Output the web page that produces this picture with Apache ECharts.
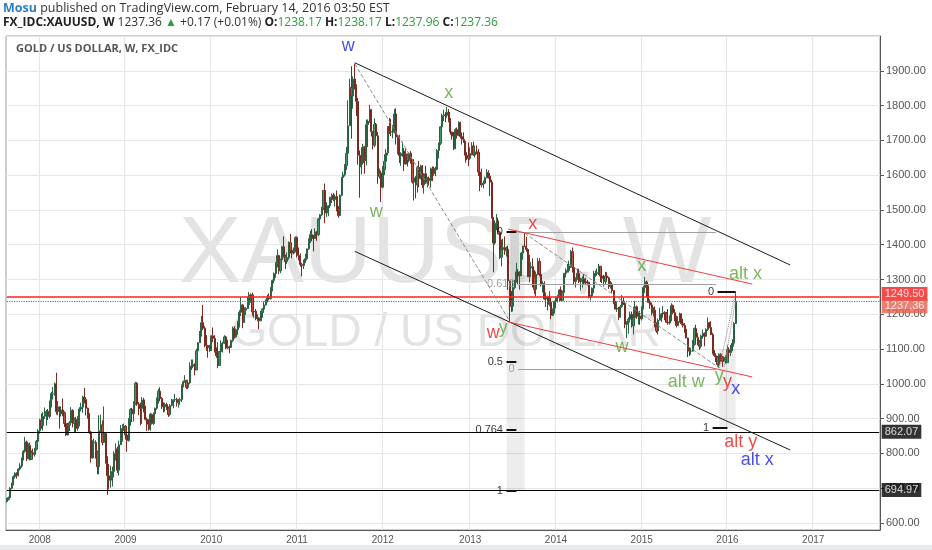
<!DOCTYPE html>
<html>
<head>
<meta charset="utf-8">
<title>GOLD / US DOLLAR, W, FX_IDC</title>
<script src="https://cdn.jsdelivr.net/npm/echarts@6/dist/echarts.min.js"></script>
<style>
  html, body { margin: 0; padding: 0; background: #fff; }
  #chart1 { width: 932px; height: 550px; }
</style>
</head>
<body>
<div id="chart1"></div>
<script>
// weekly bars, one row per week: [open, close, low, high]
var firstWeek = '2007-08-20';
var weekCount = 530;   // includes the empty weeks to the right of the last bar

var ohlc2007 = [
  [662,668,659,672],[668,673,665,676],[673,700,670,703],[700,712,697,716],[712,733,708,737],
  [733,743,728,746],[743,737,728,746],[737,755,734,758],[755,764,751,772],[764,784,759,788],
  [784,806,780,810],[806,833,802,848],[833,785,778,837],[785,823,783,829],[823,783,780,831],
  [783,802,781,809],[802,797,789,814],[797,812,791,816],[812,835,809,839]
];
var ohlc2008 = [
  [835,865,831,870],[865,896,857,900],[896,880,871,915],[880,907,866,919],[907,911,899,932],
  [911,921,880,925],[921,906,896,928],[906,948,901,952],[948,972,932,977],[972,972,955,991],
  [972,1000,966,1004],[1000,920,912,1032],[920,934,910,951],[934,914,871,935],[914,925,906,934],
  [925,917,907,958],[917,886,876,921],[886,853,850,891],[853,881,852,888],[881,888,864,893],
  [888,924,884,933],[924,886,875,927],[886,898,862,903],[898,872,861,905],[872,903,865,908],
  [903,928,878,933],[928,933,921,946],[933,962,917,966],[962,955,944,988],[955,930,909,962],
  [930,913,900,932],[913,862,856,916],[862,787,774,865],[787,830,785,838],[830,832,813,843],
  [832,805,785,838],[805,762,740,808],[762,865,740,910],[865,882,862,912],[882,832,824,895],
  [832,858,830,935],[858,785,771,862],[785,736,681,792],[736,723,697,770],[723,736,702,765],
  [736,748,705,762],[748,800,731,806],[800,813,780,829],[813,752,744,820],[752,825,737,837],
  [825,837,825,882],[837,872,834,884]
];
var ohlc2009 = [
  [872,878,864,886],[878,853,840,882],[853,837,805,860],[837,897,834,902],[897,927,880,930],
  [927,914,890,931],[914,941,892,950],[941,1002,940,1006],[1002,942,937,1005],[942,940,910,948],
  [940,929,881,946],[929,954,885,962],[954,923,918,960],[923,898,895,937],[898,884,865,903],
  [884,870,866,898],[870,912,865,917],[912,886,883,915],[886,914,882,918],[914,930,910,932],
  [930,957,925,961],[957,979,943,985],[979,958,950,990],[958,936,928,962],[936,934,918,947],
  [934,941,920,946],[941,930,925,946],[930,912,905,935],[912,938,908,942],[938,952,935,957],
  [952,954,930,956],[954,955,948,971],[955,946,935,960],[946,952,932,957],[952,955,940,960],
  [955,995,948,998],[995,1006,990,1010],[1006,1009,1003,1025],[1009,990,985,1012],[990,1003,985,1012],
  [1003,1050,1000,1062],[1050,1051,1040,1070],[1051,1056,1045,1070],[1056,1040,1025,1059],[1040,1095,1040,1101],
  [1095,1118,1091,1120],[1118,1145,1118,1152],[1145,1176,1136,1195],[1176,1160,1155,1227],[1160,1118,1105,1166],
  [1118,1110,1095,1140],[1110,1104,1075,1112]
];
var ohlc2010 = [
  [1104,1096,1092,1112],[1096,1138,1095,1140],[1138,1131,1120,1162],[1131,1093,1090,1140],[1093,1081,1075,1105],
  [1081,1053,1045,1120],[1053,1093,1053,1095],[1093,1117,1087,1125],[1117,1118,1090,1121],[1118,1135,1115,1140],
  [1135,1103,1100,1138],[1103,1106,1100,1127],[1106,1105,1088,1110],[1105,1125,1104,1127],[1125,1160,1120,1165],
  [1160,1135,1130,1166],[1135,1156,1133,1159],[1156,1180,1141,1181],[1180,1206,1162,1212],[1206,1227,1195,1249],
  [1227,1177,1160,1229],[1177,1212,1175,1220],[1212,1217,1198,1221],[1217,1227,1215,1250],[1227,1256,1220,1264],
  [1256,1256,1233,1260],[1256,1207,1196,1262],[1207,1209,1190,1215],[1209,1188,1183,1215],[1188,1189,1180,1200],
  [1189,1182,1157,1191],[1182,1205,1180,1210],[1205,1215,1190,1218],[1215,1227,1211,1237],[1227,1236,1225,1243],
  [1236,1247,1234,1256],[1247,1245,1240,1260],[1245,1275,1242,1278],[1275,1297,1266,1300],[1297,1317,1289,1320],
  [1317,1346,1305,1350],[1346,1369,1335,1387],[1369,1325,1315,1371],[1325,1357,1318,1360],[1357,1394,1330,1397],
  [1394,1367,1363,1424],[1367,1352,1330,1371],[1352,1363,1345,1378],[1363,1406,1357,1410],[1406,1384,1375,1431],
  [1384,1376,1361,1395],[1376,1380,1372,1392],[1380,1421,1378,1424]
];
var ohlc2011 = [
  [1421,1369,1363,1424],[1369,1360,1355,1392],[1360,1343,1337,1375],[1343,1340,1309,1348],[1340,1348,1330,1357],
  [1348,1360,1348,1374],[1360,1388,1355,1389],[1388,1410,1385,1418],[1410,1429,1405,1440],[1429,1421,1410,1445],
  [1421,1418,1381,1428],[1418,1437,1417,1447],[1437,1429,1411,1440],[1429,1474,1425,1476],[1474,1486,1450,1488],
  [1486,1504,1482,1509],[1504,1556,1500,1557],[1556,1491,1462,1576],[1491,1493,1480,1522],[1493,1512,1482,1514],
  [1512,1536,1505,1538],[1536,1542,1520,1547],[1542,1530,1525,1549],[1530,1539,1510,1545],[1539,1501,1496,1556],
  [1501,1484,1478,1511],[1484,1542,1482,1545],[1542,1593,1539,1595],[1593,1601,1583,1610],[1601,1628,1596,1632],
  [1628,1663,1615,1681],[1663,1742,1662,1815],[1742,1852,1742,1877],[1852,1828,1705,1913],[1828,1876,1791,1884],
  [1876,1856,1846,1921],[1856,1812,1770,1861],[1812,1657,1630,1822],[1657,1624,1535,1671],[1624,1635,1602,1680],
  [1635,1682,1630,1690],[1682,1642,1604,1684],[1642,1745,1628,1760],[1745,1755,1681,1760],[1755,1788,1750,1802],
  [1788,1725,1711,1790],[1725,1686,1674,1727],[1686,1746,1680,1763],[1746,1713,1708,1750],[1713,1597,1575,1724],
  [1597,1606,1590,1619],[1606,1565,1523,1613]
];
var ohlc2012 = [
  [1565,1616,1562,1626],[1616,1640,1600,1660],[1640,1664,1630,1675],[1664,1740,1657,1741],[1740,1725,1718,1764],
  [1725,1724,1712,1762],[1724,1724,1706,1744],[1724,1776,1720,1790],[1776,1710,1688,1792],[1710,1712,1660,1716],
  [1712,1656,1635,1716],[1656,1662,1627,1666],[1662,1669,1653,1696],[1669,1632,1612,1678],[1632,1660,1630,1676],
  [1660,1642,1625,1662],[1642,1663,1637,1665],[1663,1645,1633,1669],[1645,1580,1576,1646],[1580,1592,1527,1600],
  [1592,1572,1533,1597],[1572,1622,1550,1627],[1622,1590,1565,1641],[1590,1626,1588,1630],[1626,1572,1563,1629],
  [1572,1604,1547,1606],[1604,1579,1575,1627],[1579,1591,1565,1595],[1591,1584,1570,1596],[1584,1618,1564,1622],
  [1618,1604,1583,1625],[1604,1620,1598,1625],[1620,1616,1597,1624],[1616,1671,1615,1675],[1671,1692,1648,1694],
  [1692,1739,1686,1741],[1739,1771,1722,1777],[1771,1773,1755,1788],[1773,1772,1752,1781],[1772,1781,1765,1796],
  [1781,1757,1752,1790],[1757,1724,1716,1764],[1724,1712,1702,1725],[1712,1676,1672,1724],[1676,1731,1675,1735],
  [1731,1714,1705,1737],[1714,1751,1712,1755],[1751,1711,1705,1754],[1711,1703,1688,1723],[1703,1695,1693,1723],
  [1695,1657,1636,1698],[1657,1656,1643,1666]
];
var ohlc2013 = [
  [1656,1648,1626,1694],[1648,1662,1644,1680],[1662,1684,1657,1695],[1684,1658,1656,1696],[1658,1667,1651,1682],
  [1667,1666,1660,1685],[1666,1609,1598,1675],[1609,1572,1554,1615],[1572,1576,1565,1619],[1576,1577,1562,1585],
  [1577,1592,1574,1596],[1592,1608,1591,1617],[1608,1597,1590,1614],[1597,1580,1540,1606],[1580,1477,1476,1587],
  [1477,1405,1321,1480],[1405,1462,1400,1470],[1462,1469,1442,1488],[1469,1436,1430,1478],[1436,1364,1359,1439],
  [1364,1386,1338,1415],[1386,1392,1375,1417],[1392,1383,1371,1424],[1383,1387,1366,1395],[1387,1296,1270,1397],
  [1296,1234,1180,1298],[1234,1223,1207,1267],[1223,1277,1208,1297],[1277,1296,1272,1299],[1296,1322,1291,1348],
  [1322,1310,1286,1330],[1310,1313,1271,1324],[1313,1376,1310,1379],[1376,1396,1357,1397],[1396,1395,1393,1433],
  [1395,1386,1380,1423],[1386,1308,1307,1390],[1308,1333,1292,1371],[1333,1337,1320,1350],[1337,1308,1277,1361],
  [1308,1272,1258,1327],[1272,1315,1252,1323],[1315,1352,1312,1362],[1352,1315,1309,1361],[1315,1286,1280,1322],
  [1286,1288,1263,1295],[1288,1244,1242,1295],[1244,1250,1221,1263],[1250,1229,1211,1254],[1229,1235,1223,1267],
  [1235,1197,1186,1249],[1197,1213,1195,1217]
];
var ohlc2014 = [
  [1213,1237,1202,1240],[1237,1248,1217,1251],[1248,1254,1234,1256],[1254,1270,1236,1272],[1270,1240,1238,1280],
  [1240,1263,1238,1268],[1263,1318,1260,1319],[1318,1324,1306,1332],[1324,1326,1320,1345],[1326,1339,1320,1354],
  [1339,1380,1333,1385],[1380,1335,1320,1392],[1335,1294,1286,1340],[1294,1304,1277,1306],[1304,1318,1299,1331],
  [1318,1294,1290,1331],[1294,1300,1268,1305],[1300,1302,1277,1309],[1302,1290,1286,1316],[1290,1293,1287,1305],
  [1293,1292,1283,1299],[1292,1250,1246,1294],[1250,1253,1240,1256],[1253,1275,1248,1277],[1275,1316,1261,1325],
  [1316,1317,1308,1326],[1317,1320,1311,1332],[1320,1338,1313,1345],[1338,1310,1293,1339],[1310,1303,1290,1322],
  [1303,1294,1280,1313],[1294,1310,1285,1322],[1310,1305,1300,1321],[1305,1280,1273,1308],[1280,1287,1274,1296],
  [1287,1268,1262,1292],[1268,1231,1229,1270],[1231,1215,1214,1239],[1215,1218,1207,1237],[1218,1192,1183,1221],
  [1192,1222,1190,1227],[1222,1238,1219,1255],[1238,1231,1227,1248],[1231,1171,1160,1234],[1171,1177,1131,1180],
  [1177,1186,1144,1191],[1186,1200,1180,1208],[1200,1167,1162,1208],[1167,1191,1142,1222],[1191,1222,1190,1238],
  [1222,1195,1187,1225],[1195,1195,1171,1206]
];
var ohlc2015 = [
  [1195,1187,1170,1210],[1187,1216,1182,1223],[1216,1277,1214,1282],[1277,1293,1261,1307],[1293,1279,1250,1297],
  [1279,1234,1232,1283],[1234,1227,1216,1243],[1227,1204,1197,1234],[1204,1212,1194,1220],[1212,1164,1163,1223],
  [1164,1152,1147,1177],[1152,1183,1142,1188],[1183,1199,1182,1219],[1199,1201,1178,1204],[1201,1205,1190,1224],
  [1205,1203,1183,1209],[1203,1177,1175,1207],[1177,1175,1170,1215],[1175,1188,1170,1197],[1188,1225,1180,1232],
  [1225,1205,1200,1228],[1205,1190,1180,1215],[1190,1168,1162,1196],[1168,1180,1166,1194],[1180,1201,1176,1205],
  [1201,1173,1169,1203],[1173,1168,1162,1187],[1168,1157,1147,1175],[1157,1132,1131,1166],[1132,1099,1077,1133],
  [1099,1094,1080,1105],[1094,1094,1084,1103],[1094,1113,1093,1126],[1113,1159,1110,1162],[1159,1134,1118,1170],
  [1134,1121,1111,1146],[1121,1108,1098,1126],[1108,1138,1102,1142],[1138,1145,1130,1156],[1145,1137,1108,1148],
  [1137,1156,1135,1160],[1156,1176,1152,1191],[1176,1162,1160,1178],[1162,1142,1140,1180],[1142,1088,1085,1147],
  [1088,1081,1077,1097],[1081,1076,1063,1088],[1076,1056,1052,1080],[1056,1085,1046,1088],[1085,1075,1062,1088],
  [1075,1065,1049,1080],[1065,1076,1063,1079]
];
var ohlc2016 = [
  [1076,1061,1058,1082],[1061,1098,1061,1111],[1098,1090,1073,1105],[1090,1097,1080,1112],[1097,1117,1094,1128],
  [1117,1174,1107,1178],[1174,1237,1172,1263]
];

// horizontal levels: [price, line colour, line type, line width, tag colour, tag offset]
var levelLines = [
  [1249.50, '#ff2020', 'solid', 1.5, '#f41c1c', -3],
  [1237.36, '#f03a30', 'dotted', 1.2, '#e4604f', 5],
  [862.07, '#000000', 'solid', 1, '#000000', 0],
  [694.97, '#000000', 'solid', 1, '#000000', 0]
];

// drawn trend lines: [[week, price], [week, price]]
var channelLines = [
  [['2011-09-05', 1923], ['2016-09-26', 1342]],
  [['2011-09-05', 1381], ['2016-09-26', 810]]
];
var redLines = [
  [['2013-06-17', 1445], ['2016-04-18', 1287]],
  [['2013-06-17', 1178], ['2016-04-18', 1020]]
];
var dashedLines = [
  [['2011-09-05', 1920], ['2013-06-24', 1180]],
  [['2013-08-26', 1433], ['2015-11-30', 1046]]
];
var dottedLines = [
  [['2015-11-30', 1046], ['2016-02-08', 1263]],
  [['2015-12-21', 1049], ['2016-02-08', 1242]]
];
var fibTicks = [
  [['2013-06-10', 1437], ['2013-07-22', 1437]],
  [['2013-06-10', 1064], ['2013-07-22', 1064]],
  [['2013-06-10', 868], ['2013-07-22', 868]],
  [['2013-06-10', 692], ['2013-07-22', 692]],
  [['2015-11-23', 1265], ['2016-02-08', 1265]],
  [['2015-11-02', 873], ['2016-01-04', 873]]
];
var fibGrayLines = [
  [['2013-07-29', 1437], ['2015-11-16', 1437]],
  [['2013-07-29', 1286], ['2015-11-16', 1286]],
  [['2013-07-29', 1043], ['2015-11-16', 1043]]
];
var fibBands = [
  [['2013-06-10', 692], ['2013-08-26', 1437]],
  [['2015-11-30', 873], ['2016-02-08', 1100]]
];

// fib level labels, drawn to the left of the point: [week, price, text, colour]
var fibLabels = [
  ['2013-06-10', 1437, '0', '#000'],
  ['2013-06-10', 1064, '0.5', '#000'],
  ['2013-06-10', 868, '0.764', '#000'],
  ['2013-06-10', 692, '1', '#000'],
  ['2013-07-29', 1286, '0.618', '#8c8c8c'],
  ['2013-07-29', 1043, '0', '#8c8c8c'],
  ['2015-11-23', 1265, '0', '#000'],
  ['2015-11-02', 873, '1', '#000']
];

// wave labels: [week, price, text, colour]
var blue = '#1c22e0', green = '#5ea23b', red = '#f01c1c';
var waveLabels = [
  ['2011-08-08', 1971, 'w', blue],
  ['2012-10-08', 1836, 'x', green],
  ['2011-12-05', 1494, 'w', green],
  ['2013-09-30', 1459, 'x', red],
  ['2015-01-05', 1339, 'x', green],
  ['2016-03-21', 1316, 'alt x', green],
  ['2013-04-15', 1146, 'w', red],
  ['2013-05-27', 1160, 'y', green],
  ['2014-10-13', 1106, 'w', green],
  ['2015-07-13', 1005, 'alt w', green],
  ['2015-11-30', 1022, 'y', green],
  ['2016-01-04', 1005, 'y', red],
  ['2016-02-08', 985, 'x', blue],
  ['2016-02-29', 833, 'alt y', red],
  ['2016-05-09', 781, 'alt x', blue]
];

var DAY = 864e5;
var weekDates = [];
for (var i = 0; i < weekCount; i++) {
  weekDates.push(new Date(Date.parse(firstWeek) + i * 7 * DAY).toISOString().slice(0, 10));
}
function wk(d) {
  return Math.round((Date.parse(d) - Date.parse(firstWeek)) / (7 * DAY));
}
function isYearStart(i) {
  return i > 0 && weekDates[i].slice(0, 4) !== weekDates[i - 1].slice(0, 4);
}
function seg(s) {
  return { coords: [[wk(s[0][0]), s[0][1]], [wk(s[1][0]), s[1][1]]] };
}

var candles = [].concat(ohlc2007, ohlc2008, ohlc2009, ohlc2010, ohlc2011,
  ohlc2012, ohlc2013, ohlc2014, ohlc2015, ohlc2016);

var chart1 = echarts.init(document.getElementById('chart1'));

function linesSeries(list, color, type, width, z) {
  return {
    type: 'lines',
    coordinateSystem: 'cartesian2d',
    silent: true,
    z: z,
    symbol: 'none',
    lineStyle: { color: color, type: type, width: width, opacity: 1, curveness: 0 },
    data: list.map(seg)
  };
}

// a price level: a line across every week plus a tag on the price scale
function levelSeries(l) {
  return [
    {
      type: 'lines',
      coordinateSystem: 'cartesian2d',
      silent: true,
      z: 4,
      lineStyle: { color: l[1], type: l[2], width: l[3], opacity: 1, curveness: 0 },
      data: [{ coords: [[0, l[0]], [weekCount - 1, l[0]]] }]
    },
    {
      type: 'scatter',
      z: 8,
      silent: true,
      symbolSize: 1,
      itemStyle: { color: 'rgba(0,0,0,0)' },
      data: [{
        value: [weekCount - 1, l[0]],
        label: {
          show: true, position: 'right', distance: 2,
          formatter: l[0].toFixed(2),
          color: '#fff', backgroundColor: l[4], padding: [2, 3, 1, 3],
          fontSize: 11, fontFamily: 'Liberation Sans', offset: [0, l[5]]
        }
      }]
    }
  ];
}

var levelSeriesList = [];
levelLines.forEach(function (l) { levelSeriesList = levelSeriesList.concat(levelSeries(l)); });

var option = {
  animation: false,
  backgroundColor: '#ffffff',
  grid: { left: 6, right: 52, top: 36, bottom: 20, show: true, borderColor: '#9a9a9a', borderWidth: 1 },
  xAxis: {
    type: 'category',
    data: weekDates,
    boundaryGap: true,
    axisLine: { show: true, lineStyle: { color: '#555' } },
    axisTick: { show: false },
    axisLabel: {
      interval: function (i) { return isYearStart(i); },
      formatter: function (v) { return v.slice(0, 4); },
      color: '#555', fontSize: 10, fontFamily: 'Liberation Sans', margin: 5
    },
    splitLine: {
      show: true,
      interval: function (i) { return isYearStart(i); },
      lineStyle: { color: '#e6e6e6' }
    }
  },
  yAxis: {
    type: 'value',
    position: 'right',
    min: 580,
    max: 2000,
    minInterval: 100,
    maxInterval: 100,
    axisLine: { show: true, lineStyle: { color: '#555' } },
    axisTick: { show: true, length: 4, lineStyle: { color: '#555' } },
    axisLabel: {
      color: '#555', fontSize: 11, fontFamily: 'Liberation Sans', margin: 6,
      showMinLabel: false, showMaxLabel: false,
      formatter: function (v) { return v % 100 === 0 ? v.toFixed(2) : ''; }
    },
    splitLine: { show: true, lineStyle: { color: '#e6e6e6' } }
  },
  graphic: [
    {
      type: 'text', left: 3, top: 2, z: 10,
      style: {
        text: '{m|Mosu} published on TradingView.com, February 14, 2016 03:50 EST',
        fontSize: 12.5, fontFamily: 'Open Sans', fill: '#333',
        rich: { m: { fill: '#2a7fc1', fontSize: 12.5, fontFamily: 'Open Sans', fontWeight: 'bold' } }
      }
    },
    {
      type: 'text', left: 3, top: 17, z: 10,
      style: {
        text: '{b|FX_IDC:XAUUSD, W} 1237.36 {g|\u25B2} +0.17 (+0.01%) {b|O:}{g|1238.17} {b|H:}{g|1238.17} {b|L:}{g|1237.96} {b|C:}{g|1237.36}',
        fontSize: 12, fontFamily: 'Open Sans', fill: '#333',
        rich: {
          b: { fill: '#222', fontSize: 12, fontFamily: 'Open Sans', fontWeight: 'bold' },
          g: { fill: '#2e9e3e', fontSize: 12, fontFamily: 'Open Sans' }
        }
      }
    },
    {
      type: 'text', left: 16, top: 43, z: 10,
      style: { text: 'GOLD / US DOLLAR, W, FX_IDC', fontSize: 11, fontFamily: 'Open Sans', fontWeight: 'bold', fill: '#555' }
    },
    {
      type: 'text', x: 445, y: 256, z: 0, silent: true,
      style: { text: 'XAUUSD, W', fontSize: 94, fontFamily: 'Liberation Sans', fill: '#e3e3e3', align: 'center', verticalAlign: 'middle' }
    },
    {
      type: 'text', x: 446, y: 333, z: 0, silent: true,
      style: { text: 'GOLD / US DOLLAR', fontSize: 46, fontFamily: 'Liberation Sans', fill: '#e3e3e3', align: 'center', verticalAlign: 'middle' }
    },
    {
      type: 'rect', z: 0, silent: true,
      shape: { x: 0, y: 545, width: 932, height: 5 },
      style: { fill: '#e8ebee' }
    }
  ],
  series: [
    {
      // light fib time bands
      type: 'scatter',
      z: 1,
      silent: true,
      data: [],
      markArea: {
        silent: true,
        itemStyle: { color: 'rgba(0,0,0,0.07)' },
        data: fibBands.map(function (b) {
          return [{ coord: [wk(b[0][0]), b[0][1]] }, { coord: [wk(b[1][0]), b[1][1]] }];
        })
      }
    },
    {
      type: 'candlestick',
      z: 3,
      barWidth: '100%',
      data: candles,
      itemStyle: {
        color: '#3f9468',
        color0: '#c0503d',
        borderColor: '#2a6343',
        borderColor0: '#7a2a1e',
        borderWidth: 1
      }
    }
  ].concat(levelSeriesList, [
    linesSeries(fibGrayLines, '#a0a0a0', 'solid', 1, 4),
    linesSeries(channelLines, '#1a1a1a', 'solid', 1, 5),
    linesSeries(redLines, '#f23c3c', 'solid', 1, 5),
    linesSeries(dashedLines, '#8a8a8a', 'dashed', 1, 5),
    linesSeries(dottedLines, '#8a8a8a', 'dotted', 1, 5),
    linesSeries(fibTicks, '#111111', 'solid', 2, 5),
    {
      type: 'scatter',
      z: 6,
      silent: true,
      symbolSize: 1,
      itemStyle: { color: 'rgba(0,0,0,0)' },
      data: fibLabels.map(function (d) {
        return {
          value: [wk(d[0]), d[1]],
          label: { show: true, position: 'left', distance: 3, formatter: d[2], color: d[3], fontSize: 11, fontFamily: 'Liberation Sans' }
        };
      })
    },
    {
      type: 'scatter',
      z: 7,
      silent: true,
      symbolSize: 1,
      itemStyle: { color: 'rgba(0,0,0,0)' },
      data: waveLabels.map(function (d) {
        return {
          value: [wk(d[0]), d[1]],
          label: { show: true, position: 'inside', formatter: d[2], color: d[3], fontSize: 18, fontFamily: 'Liberation Sans' }
        };
      })
    }
  ])
};

chart1.setOption(option);
</script>
</body>
</html>
